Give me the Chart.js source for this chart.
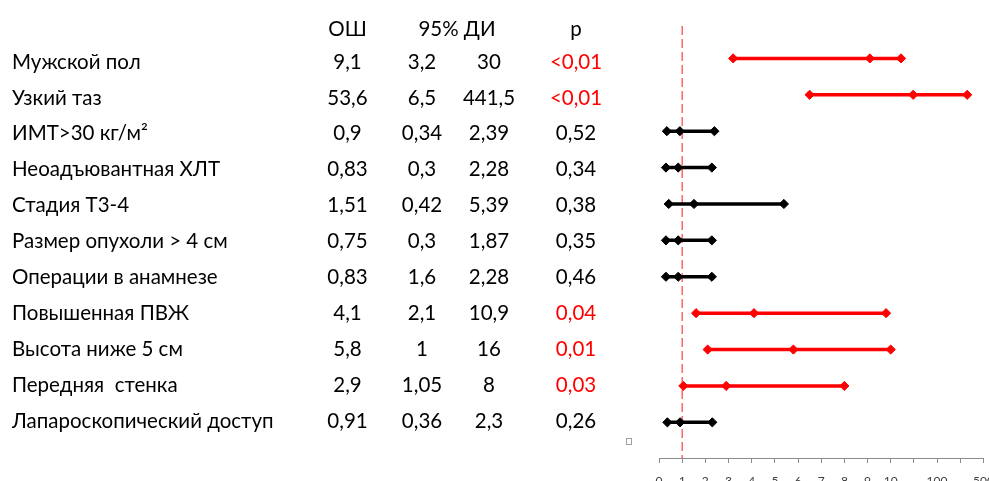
<!DOCTYPE html>
<html>
<head>
<meta charset="utf-8">
<script src="https://cdn.jsdelivr.net/npm/chart.js@4"></script>
<style>
  html, body { margin: 0; padding: 0; background: #fff; overflow: hidden; }
  #wrap { width: 989px; height: 481px; position: relative; }
</style>
</head>
<body>
<div id="wrap"><canvas id="c" width="989" height="481"></canvas></div>
<script>
// ---- data ----
const ROW_LABELS = ['Мужской пол', 'Узкий таз', 'ИМТ>30 кг/м²', 'Неоадъювантная ХЛТ', 'Стадия Т3-4',
  'Размер опухоли > 4 см', 'Операции в анамнезе', 'Повышенная ПВЖ', 'Высота ниже 5 см',
  'Передняя  стенка', 'Лапароскопический доступ'];
const OR_TEXT = ['9,1', '53,6', '0,9', '0,83', '1,51', '0,75', '0,83', '4,1', '5,8', '2,9', '0,91'];
const CI_LOW_TEXT = ['3,2', '6,5', '0,34', '0,3', '0,42', '0,3', '1,6', '2,1', '1', '1,05', '0,36'];
const CI_HIGH_TEXT = ['30', '441,5', '2,39', '2,28', '5,39', '1,87', '2,28', '10,9', '16', '8', '2,3'];
const P_TEXT = ['<0,01', '<0,01', '0,52', '0,34', '0,38', '0,35', '0,46', '0,04', '0,01', '0,03', '0,26'];
const SIGNIFICANT = [true, true, false, false, false, false, false, true, true, true, false];
const HEADERS = ['ОШ', '95% ДИ', 'p'];

const OR_PLOT = [9.1, 53.6, 0.9, 0.83, 1.51, 0.83, 0.83, 4.1, 5.8, 2.9, 0.91];
const LOW_PLOT = [3.2, 6.5, 0.34, 0.3, 0.42, 0.3, 0.3, 1.6, 2.1, 1.05, 0.36];
const HIGH_PLOT = [30, 360, 2.39, 2.28, 5.39, 2.28, 2.28, 9.8, 10, 8, 2.3];

const REF_VALUE = 1;
const TICK_VALUES = [0, 1, 2, 3, 4, 5, 6, 7, 8, 9, 10, 55, 100, 300, 500];
const TICK_LABELS = ['0', '1', '2', '3', '4', '5', '6', '7', '8', '9', '10', '', '100', '', '500'];
// broken axis: value -> axis position
const AXIS_BREAKS = [[0, 0], [10, 10], [100, 12], [500, 14]];

function toPos(v) {
  for (let i = 1; i < AXIS_BREAKS.length; i++) {
    const [v0, p0] = AXIS_BREAKS[i - 1], [v1, p1] = AXIS_BREAKS[i];
    if (v <= v1 || i === AXIS_BREAKS.length - 1) return p0 + (v - v0) / (v1 - v0) * (p1 - p0);
  }
}
function fromPos(p) {
  for (let i = 1; i < AXIS_BREAKS.length; i++) {
    const [v0, p0] = AXIS_BREAKS[i - 1], [v1, p1] = AXIS_BREAKS[i];
    if (p <= p1 || i === AXIS_BREAKS.length - 1) return v0 + (p - p0) / (p1 - p0) * (v1 - v0);
  }
}

class BrokenAxis extends Chart.LinearScale {
  determineDataLimits() {
    this.min = toPos(AXIS_BREAKS[0][0]);
    this.max = toPos(AXIS_BREAKS[AXIS_BREAKS.length - 1][0]);
  }
  buildTicks() { return TICK_VALUES.map(v => ({ value: v })); }
  getPixelForValue(v) { return super.getPixelForValue(toPos(v)); }
  getValueForPixel(px) { return fromPos(super.getValueForPixel(px)); }
}
BrokenAxis.id = 'brokenAxis';
BrokenAxis.defaults = Chart.LinearScale.defaults;
Chart.register(BrokenAxis);

const RED = '#ff0000';
const FONT = 'Lato, "Open Sans", sans-serif';

const datasets = ROW_LABELS.map((lab, i) => {
  const col = SIGNIFICANT[i] ? RED : '#000000';
  return {
    label: lab,
    data: [{ x: LOW_PLOT[i], y: i }, { x: OR_PLOT[i], y: i }, { x: HIGH_PLOT[i], y: i }],
    borderColor: col,
    backgroundColor: col,
    borderWidth: 3.5,
    pointStyle: 'rectRot',
    pointRadius: 4.6,
    pointBorderWidth: 1,
    pointBorderColor: col,
    pointBackgroundColor: col,
    tension: 0
  };
});

const tablePlugin = {
  id: 'tablePlugin',
  beforeDatasetsDraw(chart) {
    const { ctx, chartArea, scales } = chart;
    const x = scales.x.getPixelForValue(REF_VALUE);
    ctx.save();
    ctx.strokeStyle = '#ff4040';
    ctx.lineWidth = 1.2;
    ctx.setLineDash([9, 4]);
    ctx.beginPath();
    ctx.moveTo(x, chartArea.top);
    ctx.lineTo(x, chartArea.bottom);
    ctx.stroke();
    ctx.restore();
  },
  afterDraw(chart) {
    const { ctx } = chart;
    ctx.save();
    ctx.font = '20.5px ' + FONT;
    ctx.textBaseline = 'middle';
    ctx.fillStyle = '#000';
    ctx.textAlign = 'center';
    const headerY = 29;
    ctx.fillText(HEADERS[0], 347.5, headerY);
    ctx.fillText(HEADERS[1], 457, headerY);
    ctx.fillText(HEADERS[2], 576, headerY);
    ROW_LABELS.forEach((lab, i) => {
      const y = 62 + 35.9 * i;
      ctx.fillStyle = '#000';
      ctx.textAlign = 'left';
      ctx.fillText(lab, 12, y);
      ctx.textAlign = 'center';
      ctx.fillText(OR_TEXT[i], 347.5, y);
      ctx.fillText(CI_LOW_TEXT[i], 422, y);
      ctx.fillText(CI_HIGH_TEXT[i], 489, y);
      ctx.fillStyle = SIGNIFICANT[i] ? RED : '#000';
      ctx.fillText(P_TEXT[i], 576, y);
    });
    ctx.strokeStyle = '#a0a0a0';
    ctx.lineWidth = 1;
    ctx.strokeRect(626.5, 438.5, 5, 6);
    ctx.restore();
  }
};

new Chart(document.getElementById('c'), {
  type: 'line',
  data: { datasets },
  options: {
    responsive: false,
    animation: false,
    events: [],
    layout: { padding: { left: 659, right: 3, top: 26, bottom: 0 } },
    plugins: { legend: { display: false }, tooltip: { enabled: false } },
    scales: {
      x: {
        type: 'brokenAxis',
        position: 'bottom',
        border: { display: true, color: '#8c8c8c', width: 1 },
        grid: { drawOnChartArea: false, drawTicks: true, tickLength: 5, color: '#8c8c8c' },
        ticks: {
          autoSkip: false, maxRotation: 0, padding: 11, color: '#404040',
          font: { family: FONT, size: 12 },
          callback: (v, i) => TICK_LABELS[i]
        },
        afterFit: (axis) => { axis.height = 23; axis.paddingLeft = 0; axis.paddingRight = 0; }
      },
      y: {
        type: 'linear', display: false, reverse: true, min: -0.89, max: 10.98
      }
    }
  },
  plugins: [tablePlugin]
});
</script>
</body>
</html>
